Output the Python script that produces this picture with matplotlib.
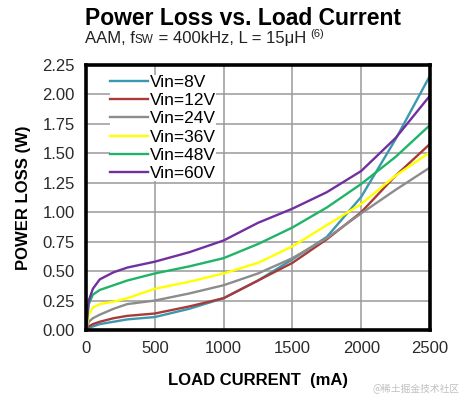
import numpy as np
import matplotlib.pyplot as plt

plt.rcParams['font.family'] = ['Liberation Sans', 'DejaVu Sans']

# Load current (mA)
current = [0, 20, 50, 100, 200, 300, 500, 750, 1000, 1250, 1500, 1750, 2000, 2250, 2500]

# Power loss (W) for each input voltage
loss_8v = [0, 0.02, 0.03, 0.05, 0.07, 0.09, 0.11, 0.18, 0.27, 0.42, 0.60, 0.79, 1.13, 1.62, 2.16]
loss_12v = [0, 0.03, 0.05, 0.07, 0.10, 0.12, 0.14, 0.20, 0.27, 0.42, 0.57, 0.77, 1.00, 1.31, 1.58]
loss_24v = [0, 0.07, 0.10, 0.13, 0.18, 0.22, 0.25, 0.31, 0.38, 0.48, 0.61, 0.78, 0.99, 1.19, 1.38]
loss_36v = [0, 0.13, 0.19, 0.22, 0.24, 0.27, 0.35, 0.41, 0.48, 0.57, 0.71, 0.89, 1.07, 1.31, 1.51]
loss_48v = [0, 0.22, 0.30, 0.34, 0.38, 0.42, 0.48, 0.54, 0.61, 0.73, 0.87, 1.04, 1.24, 1.47, 1.74]
loss_60v = [0, 0.25, 0.35, 0.43, 0.49, 0.53, 0.58, 0.66, 0.76, 0.91, 1.03, 1.17, 1.35, 1.63, 1.99]

labels = ['Vin=8V', 'Vin=12V', 'Vin=24V', 'Vin=36V', 'Vin=48V', 'Vin=60V']
colors = ['#3b98ae', '#a83a3a', '#8c8c8c', '#ffff00', '#1fb468', '#7030a0']
series = [loss_8v, loss_12v, loss_24v, loss_36v, loss_48v, loss_60v]

xticks = [0, 500, 1000, 1500, 2000, 2500]
yticks = np.arange(0, 2.26, 0.25)

fig = plt.figure(figsize=(4.66, 3.99), dpi=100)
ax = fig.add_axes([86 / 466, 1 - 330 / 399, 344 / 466, 265 / 399])

for y, c, lab in zip(series, colors, labels):
    ax.plot(current, y, color=c, lw=1.7, label=lab, zorder=3)

ax.set_xlim(0, 2500)
ax.set_ylim(0, 2.25)
ax.set_xticks(xticks)
ax.set_yticks(yticks)
ax.set_yticklabels([f'{v:.2f}' for v in yticks])
ax.tick_params(length=0, labelsize=12, pad=8, colors='#2a2a2a')
ax.grid(True, color='#9a9a9a', lw=1.1)
for s in ax.spines.values():
    s.set_linewidth(2.6)
    s.set_color('black')
    s.set_zorder(6)

ax.set_xlabel('LOAD CURRENT  (mA)', fontsize=12, fontweight='bold', labelpad=12)
ax.set_ylabel('POWER LOSS (W)', fontsize=12, fontweight='bold', labelpad=8)

leg = ax.legend(loc='upper left', bbox_to_anchor=(0.045, 0.996), fontsize=12.5,
                handlelength=2.2, handletextpad=0.1, labelspacing=0.18,
                borderpad=0.0, frameon=True, fancybox=False)
leg.get_frame().set_edgecolor('none')
leg.get_frame().set_facecolor('white')
leg.get_frame().set_alpha(1)

# title and subtitle
fig.text(85 / 466, 1 - 25 / 399, 'Power Loss vs. Load Current', fontsize=16.5,
         fontweight='bold', ha='left', va='baseline')

renderer = fig.canvas.get_renderer()
x0 = 85 / 466
yb = 1 - 43 / 399
pieces = [('AAM, f', 12, 0), ('SW', 8.5, 0), (' = 400kHz, L = 15μH ', 12, 0), ('(6)', 8, 6 / 399)]
for txt, size, dy in pieces:
    t = fig.text(x0, yb + dy, txt, fontsize=size, ha='left', va='baseline', color='#222222')
    bb = t.get_window_extent(renderer)
    x0 += bb.width / fig.bbox.width

fig.text(460 / 466, 1 - 392 / 399, '@稀土掘金技术社区', fontsize=7, color='#c0c0c0',
         ha='right', va='baseline', family=['Noto Sans CJK SC', 'DejaVu Sans'])

fig.savefig('out.png', dpi=100)
